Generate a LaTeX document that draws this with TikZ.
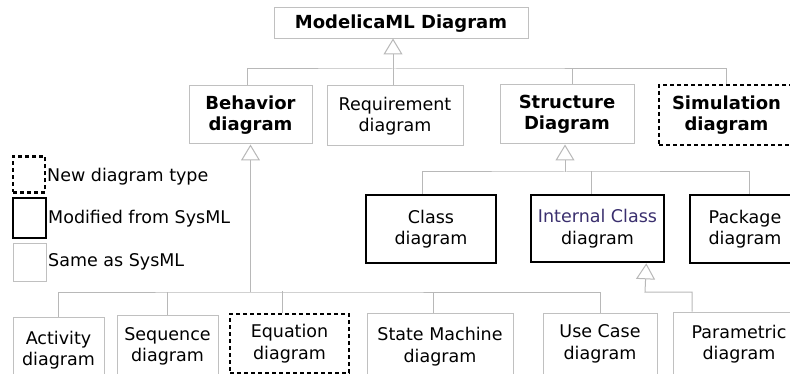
\documentclass[tikz,border=0pt]{standalone}
\usepackage{fontspec}
\setmainfont{DejaVu Sans}
\usetikzlibrary{arrows.meta}
\definecolor{boxgray}{HTML}{C0C0C0}
\definecolor{linegray}{HTML}{B8B8B8}
\definecolor{icdink}{HTML}{3A2F6E}
\tikzset{
  diagtext/.style={font=\fontsize{17.5}{21.5}\selectfont, text=black, align=center, inner sep=0pt},
  boldtext/.style={font=\fontsize{18}{21.5}\selectfont\bfseries},
  samebox/.style={diagtext, draw=boxgray, line width=1pt},
  modbox/.style={diagtext, draw=black, line width=2.6pt},
  newbox/.style={diagtext, draw=black, line width=2.2pt, dash pattern=on 4pt off 3pt},
  legendtext/.style={diagtext, anchor=west},
  line/.style={draw=linegray, line width=1pt},
  gen/.style={line, -{Triangle[open, length=16pt, width=19pt, fill=white]}}
}

\begin{document}
\begin{tikzpicture}[x=1pt,y=-1pt]
  \useasboundingbox (0,0) rectangle (790,374);
  % top level
  \node[samebox, boldtext, minimum width=254, minimum height=31] (top) at (401,23.5) {ModelicaML Diagram};
  \node[samebox, boldtext, minimum width=123, minimum height=58] (beh) at (250.5,115) {Behavior\\diagram};
  \node[samebox, minimum width=136, minimum height=60] (req) at (395,116) {Requirement\\diagram};
  \node[samebox, boldtext, minimum width=134, minimum height=59] (str) at (567,114.5) {Structure\\Diagram};
  \node[newbox, boldtext, minimum width=135, minimum height=60] (sim) at (726.5,115) {Simulation\\diagram};

  % structure children
  \node[modbox, minimum width=130, minimum height=68] (cls) at (431,229) {Class\\diagram};
  \node[modbox, minimum width=133, minimum height=67] (icd) at (597.5,228.5) {{\color{icdink}Internal Class}\\diagram};
  \node[modbox, minimum width=110, minimum height=68] (pkg) at (745,229) {Package\\diagram};

  % behavior children
  \node[samebox, minimum width=91, minimum height=66] (act) at (58.5,350) {Activity\\diagram};
  \node[samebox, minimum width=101, minimum height=63] (seq) at (167.5,346.5) {Sequence\\diagram};
  \node[newbox, minimum width=119, minimum height=59] (eqn) at (289.5,343.5) {Equation\\diagram};
  \node[samebox, minimum width=146, minimum height=67] (stm) at (440,346.5) {State Machine\\diagram};
  \node[samebox, minimum width=114, minimum height=62] (uc) at (600,344) {Use Case\\diagram};
  \node[samebox, minimum width=132, minimum height=64] (par) at (739,344) {Parametric\\diagram};

  % legend
  \node[newbox, minimum width=32, minimum height=36] (lnew) at (29,174.5) {};
  \node[modbox, minimum width=33, minimum height=40] (lmod) at (29.5,218) {};
  \node[samebox, minimum width=33, minimum height=38] (lsame) at (29.5,262.5) {};
  \node[legendtext] (lnewtxt) at (47,177) {New diagram type};
  \node[legendtext] (lmodtxt) at (48,219) {Modified from SysML};
  \node[legendtext] (lsametxt) at (48,262) {Same as SysML};

  % generalizations
  \coordinate (bar1) at (393,69);
  \coordinate (bar2) at (565,172);
  \coordinate (bar3) at (250.5,292);
  \coordinate (bar4) at (645,292);

  \draw[gen] ([xshift=-2]req.north) -- ++(0,-47);
  \draw[line] ([xshift=-3]beh.north) |- (bar1) -| (sim.north);
  \draw[line] ([xshift=5]str.north) -- ++(0,-16);

  \draw[gen] (bar2) -- ([xshift=-2]str.south);
  \draw[line] ([xshift=-9]cls.north) |- (bar2) -| ([xshift=4]pkg.north);
  \draw[line] ([xshift=-6]icd.north) -- ++(0,-23);

  \draw[gen] (bar3) -- (beh.south);
  \draw[line] (act.north) |- (bar3) -| (uc.north);
  \draw[line] (seq.north) -- ++(0,-23);
  \draw[line] ([xshift=-7]eqn.north) -- ++(0,-22);
  \draw[line] ([xshift=-7]stm.north) -- ++(0,-21);

  \draw[gen] ([xshift=-47]par.north) |- (bar4) -- ([xshift=-19]icd.south east);
\end{tikzpicture}
\end{document}
